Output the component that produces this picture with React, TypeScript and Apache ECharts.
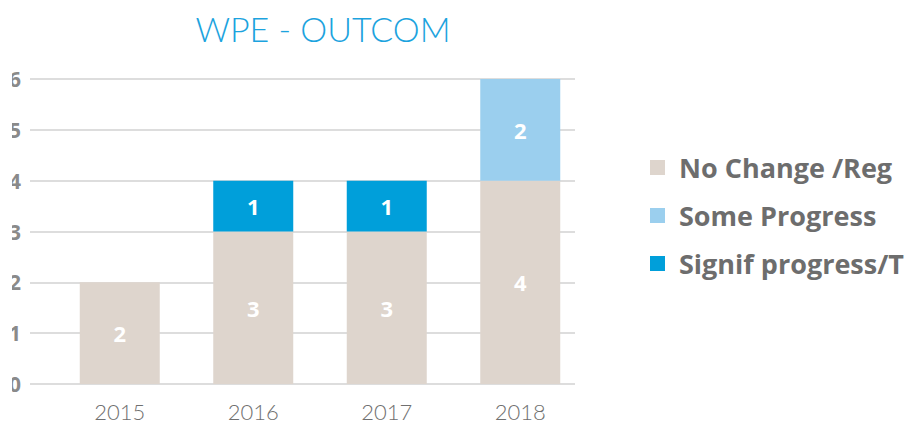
import React, { useEffect, useRef } from "react";
import * as echarts from "echarts";

const categories = ["2015", "2016", "2017", "2018"];
const noChange = [2, 3, 3, 4];
const someProgress = [0, 0, 0, 2];
const signifProgress = [0, 1, 1, 0];
const yTicks = [0, 1, 2, 3, 4, 5, 6];

export default function App() {
  const ref = useRef<HTMLDivElement>(null);
  useEffect(() => {
    if (!ref.current) return;
    const chart = echarts.init(ref.current, null, { renderer: "svg" });
    const labelCfg = {
      show: true,
      position: "inside",
      color: "#ffffff",
      fontSize: 22,
      fontWeight: "bold",
      fontFamily: "Open Sans",
      formatter: (p: any) => (p.value ? String(p.value) : ""),
    };
    chart.setOption({
      animation: false,
      backgroundColor: "#ffffff",
      title: {
        text: "WPE - OUTCOM",
        left: 318,
        textAlign: "center",
        top: 6,
        textStyle: {
          color: "#1CA3DE",
          fontSize: 34,
          fontWeight: 300,
          fontFamily: "Lato",
        },
      },
      legend: {
        orient: "vertical",
        left: 645,
        top: 149,
        itemWidth: 15,
        itemHeight: 15,
        itemGap: 21,
        icon: "rect",
        textStyle: {
          color: "#6D6D6D",
          fontSize: 27,
          fontWeight: "bold",
          fontFamily: "Open Sans",
          lineHeight: 27,
          padding: [0, 0, 0, 9],
        },
        data: ["No Change /Reg", "Some Progress", "Signif progress/T"],
      },
      grid: [
        { left: 30, right: 330, top: 79, bottom: 41 },
        { left: 53, right: 318, top: 79, bottom: 41 },
      ],
      xAxis: [
        { type: "category", gridIndex: 0, data: categories, show: false },
        {
          type: "category",
          gridIndex: 1,
          data: categories,
          axisLine: { show: false },
          axisTick: { show: false },
          axisLabel: {
            color: "#707070",
            fontSize: 22,
            fontWeight: 300,
            fontFamily: "Lato",
            margin: 16,
          },
        },
      ],
      yAxis: [
        {
          type: "value",
          gridIndex: 0,
          min: 0,
          max: 6,
          interval: 1,
          axisLine: { show: false },
          axisTick: { show: false },
          axisLabel: {
            color: "#8A8A8A",
            fontSize: 21,
            fontWeight: "bold",
            fontFamily: "Open Sans",
            margin: 9,
            formatter: (v: number) => (yTicks.includes(v) ? String(v) : ""),
          },
          splitLine: { show: true, lineStyle: { color: "#D2D2D2", width: 1.5 } },
        },
        {
          type: "value",
          gridIndex: 1,
          min: 0,
          max: 6,
          interval: 1,
          show: false,
          splitLine: { show: false },
        },
      ],
      graphic: [
        {
          type: "rect",
          left: 0,
          top: 50,
          z: 100,
          shape: { width: 12, height: 350 },
          style: { fill: "#ffffff" },
        },
      ],
      series: [
        {
          name: "No Change /Reg",
          type: "bar",
          stack: "a",
          xAxisIndex: 1,
          yAxisIndex: 1,
          barWidth: 80,
          data: noChange,
          itemStyle: { color: "#DED5CD" },
          label: labelCfg,
        },
        {
          name: "Some Progress",
          type: "bar",
          stack: "a",
          xAxisIndex: 1,
          yAxisIndex: 1,
          barWidth: 80,
          data: someProgress,
          itemStyle: { color: "#9BCFEE" },
          label: labelCfg,
        },
        {
          name: "Signif progress/T",
          type: "bar",
          stack: "a",
          xAxisIndex: 1,
          yAxisIndex: 1,
          barWidth: 80,
          data: signifProgress,
          itemStyle: { color: "#009FDA" },
          label: labelCfg,
        },
      ],
    });
    return () => chart.dispose();
  }, []);
  return (
    <div
      ref={ref}
      style={{ position: "absolute", left: 0, top: 0, width: 905, height: 425 }}
    />
  );
}
